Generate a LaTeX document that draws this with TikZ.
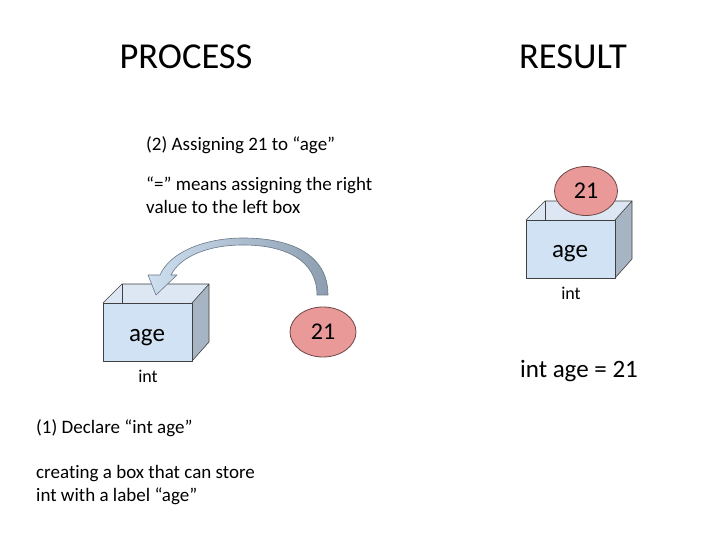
\documentclass[tikz,border=0pt]{standalone}
\usepackage{fontspec}
\setmainfont{Carlito}[Ligatures=NoCommon]
\usetikzlibrary{shapes.geometric}
\definecolor{boxfront}{RGB}{208,226,243}
\definecolor{boxside}{RGB}{166,180,195}
\definecolor{boxtop}{RGB}{220,231,243}
\definecolor{boxline}{RGB}{64,64,64}
\definecolor{ballfill}{RGB}{234,153,153}
\definecolor{ballline}{RGB}{110,70,70}
\definecolor{arrowL}{RGB}{206,223,240}
\definecolor{arrowR}{RGB}{140,158,176}
\definecolor{arrowline}{RGB}{105,120,135}
\tikzset{
  title/.style={font=\fontsize{36.5}{40}\selectfont, anchor=base, inner sep=0pt},
  body/.style={font=\fontsize{19}{23}\selectfont, anchor=base west, inner sep=0pt},
  boxlabel/.style={font=\fontsize{25}{28}\selectfont, anchor=base, inner sep=0pt},
  typelabel/.style={font=\fontsize{18}{21}\selectfont, anchor=base, inner sep=0pt},
  ball/.style={ellipse, draw=ballline, fill=ballfill, line width=0.8pt,
    minimum width=66pt, minimum height=50pt, inner sep=0pt,
    font=\fontsize{24}{27}\selectfont},
  boxedge/.style={draw=boxline, line width=0.6pt, line join=round},
}
\newcommand{\drawbox}[3]{% #1 = x, #2 = y (top-left of front), #3 = name
  \coordinate (#3-a) at (#1,#2);
  \coordinate (#3-b) at ({#1+89},#2);
  \coordinate (#3-c) at ({#1+89},{#2+58});
  \coordinate (#3-d) at (#1,{#2+58});
  \coordinate (#3-e) at ({#1+19},{#2-19});
  \coordinate (#3-f) at ({#1+106},{#2-19});
  \coordinate (#3-g) at ({#1+106},{#2+39});
  \coordinate (#3-h) at ({#1+19},#2);
  \fill[boxtop] (#3-a) -- (#3-e) -- (#3-f) -- (#3-b) -- cycle;
  \draw[boxedge, fill=boxside] (#3-b) -- (#3-f) -- (#3-g) -- (#3-c) -- cycle;
  \draw[boxedge] (#3-a) -- (#3-e) -- (#3-f);
  \draw[boxline, line width=0.5pt] (#3-e) -- (#3-h);
  \draw[boxedge, fill=boxfront] (#3-a) rectangle (#3-c);
}
\begin{document}
\begin{tikzpicture}[x=1pt,y=-1pt]
\useasboundingbox[fill=white] (0,0) rectangle (723,534);

% titles
\node[title] (process) at (186,69) {PROCESS};
\node[title] (result) at (573,69) {RESULT};

% texts (2)
\node[body] (t2a) at (146,151) {(2) Assigning 21 to “age”};
\node[body] (t2b) at (146,191) {“=” means assigning the right};
\node[body] (t2c) at (146,214) {value to the left box};

% texts (1)
\node[body] (t1a) at (36,433) {(1) Declare “int age”};
\node[body] (t1b) at (36,478) {creating a box that can store};
\node[body] (t1c) at (36,501) {int with a label “age”};

% left box
\drawbox{103}{303}{lb}
\node[boxlabel] (lage) at (147,342) {age};
\node[typelabel] (lint) at (148,383) {int};

% left ball
\node[ball] (lball) at (323,332) {21};

% curved arrow
\shade[left color=arrowL, right color=arrowR, draw=arrowline, line width=0.6pt, line join=round]
  (328,295) .. controls (328,255) and (292,238) .. (243,238)
  .. controls (205,238) and (170,252) .. (160,275)
  -- (148,275) -- (156,295) -- (177,275) -- (171,275)
  .. controls (180,257) and (207,245) .. (243,245)
  .. controls (285,245) and (317,260) .. (317,295) -- cycle;

% right box
\drawbox{526}{220}{rb}
\node[ball, minimum width=63pt, minimum height=49pt] (rball) at (586,191) {21};
\node[boxlabel] (rage) at (570,258) {age};
\node[typelabel] (rint) at (571,300) {int};

\node[font=\fontsize{25}{28}\selectfont, anchor=base, inner sep=0pt] (eq) at (579,378) {int age = 21};
\end{tikzpicture}
\end{document}
